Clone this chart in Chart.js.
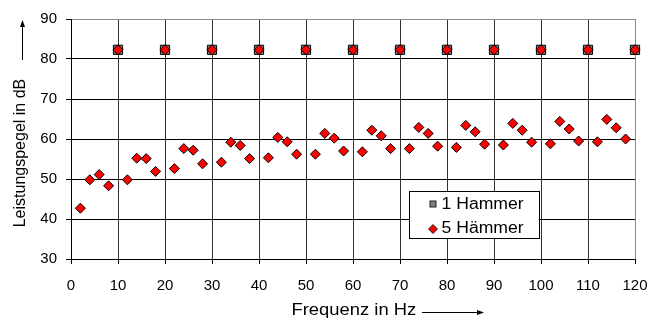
<!DOCTYPE html>
<html>
<head>
<meta charset="utf-8">
<script src="https://cdn.jsdelivr.net/npm/chart.js@4/dist/chart.umd.min.js"></script>
<style>
  html, body { margin: 0; padding: 0; background: #fff; }
  canvas { display: block; }
</style>
</head>
<body>
<canvas id="chart" width="661" height="322"></canvas>
<script>
// Frequenzen (Hz) und Pegel (dB)
const freq5 = [2, 4, 6, 8, 10, 12, 14, 16, 18, 20, 22, 24, 26, 28, 30, 32, 34, 36, 38, 40,
               42, 44, 46, 48, 50, 52, 54, 56, 58, 60, 62, 64, 66, 68, 70, 72, 74, 76, 78, 80,
               82, 84, 86, 88, 90, 92, 94, 96, 98, 100, 102, 104, 106, 108, 110, 112, 114, 116, 118, 120];
const level5 = [42.7, 49.8, 51.1, 48.3, 82.3, 49.8, 55.2, 55.1, 51.9, 82.3,
                52.6, 57.6, 57.2, 53.8, 82.3, 54.2, 59.2, 58.4, 55.1, 82.3,
                55.3, 60.4, 59.3, 56.2, 82.3, 56.2, 61.4, 60.2, 57.0, 82.3,
                56.8, 62.2, 60.8, 57.6, 82.3, 57.6, 62.9, 61.4, 58.2, 82.3,
                57.9, 63.4, 61.8, 58.7, 82.3, 58.5, 63.9, 62.2, 59.2, 82.3,
                58.8, 64.4, 62.5, 59.5, 82.3, 59.3, 64.9, 62.8, 60.0, 82.3];
const freq1 = [10, 20, 30, 40, 50, 60, 70, 80, 90, 100, 110, 120];
const level1 = [82.3, 82.3, 82.3, 82.3, 82.3, 82.3, 82.3, 82.3, 82.3, 82.3, 82.3, 82.3];

const xTicks = [0, 10, 20, 30, 40, 50, 60, 70, 80, 90, 100, 110, 120];
const yTicks = [30, 40, 50, 60, 70, 80, 90];

const seriesNames = ['1 Hammer', '5 Hämmer'];
const xTitle = 'Frequenz in Hz';
const yTitle = 'Leistungspegel in dB';

const FONT = '"Liberation Sans", Arial, sans-serif';

function toPoints(xs, ys) {
    return xs.map((x, i) => ({ x: x, y: ys[i] }));
}

function stretchedText(ctx, text, x, y, sx) {
    ctx.save();
    ctx.translate(x, y);
    ctx.scale(sx, 1);
    ctx.fillText(text, 0, 0);
    ctx.restore();
}

const decorations = {
    id: 'decorations',
    afterDraw(chart) {
        const ctx = chart.ctx;
        ctx.save();
        ctx.fillStyle = '#000';
        ctx.strokeStyle = '#000';
        ctx.lineWidth = 1;
        ctx.font = '16px ' + FONT;

        // y-Achsentitel mit Pfeil
        ctx.save();
        ctx.translate(25, 153);
        ctx.rotate(-Math.PI / 2);
        ctx.textAlign = 'center';
        ctx.textBaseline = 'alphabetic';
        ctx.fillText(yTitle, 0, 0);
        ctx.restore();

        ctx.beginPath();
        ctx.moveTo(22.5, 60);
        ctx.lineTo(22.5, 25);
        ctx.stroke();
        ctx.beginPath();
        ctx.moveTo(22.5, 20);
        ctx.lineTo(20, 27);
        ctx.lineTo(25, 27);
        ctx.closePath();
        ctx.fill();

        // x-Achsentitel mit Pfeil
        ctx.textAlign = 'left';
        ctx.textBaseline = 'alphabetic';
        stretchedText(ctx, xTitle, 291.5, 315, 1.15);
        ctx.beginPath();
        ctx.moveTo(422, 312.5);
        ctx.lineTo(478, 312.5);
        ctx.stroke();
        ctx.beginPath();
        ctx.moveTo(484, 312.5);
        ctx.lineTo(477, 310);
        ctx.lineTo(477, 315);
        ctx.closePath();
        ctx.fill();

        // Legende
        ctx.fillStyle = '#fff';
        ctx.fillRect(409.5, 191.5, 130, 47);
        ctx.strokeStyle = '#000';
        ctx.strokeRect(409.5, 191.5, 130, 47);

        ctx.fillStyle = '#808080';
        ctx.fillRect(430, 201, 6, 6);
        ctx.strokeStyle = '#222';
        ctx.strokeRect(430, 201, 6, 6);

        ctx.beginPath();
        ctx.moveTo(433, 224.5);
        ctx.lineTo(437.5, 229);
        ctx.lineTo(433, 233.5);
        ctx.lineTo(428.5, 229);
        ctx.closePath();
        ctx.fillStyle = '#ff0000';
        ctx.fill();
        ctx.strokeStyle = '#222';
        ctx.stroke();

        ctx.fillStyle = '#000';
        ctx.textBaseline = 'middle';
        stretchedText(ctx, seriesNames[0], 441.5, 204.5, 1.1);
        stretchedText(ctx, seriesNames[1], 441.5, 229, 1.1);
        ctx.restore();
    }
};

new Chart(document.getElementById('chart').getContext('2d'), {
    type: 'scatter',
    data: {
        datasets: [{
            label: seriesNames[1],
            data: toPoints(freq5, level5),
            pointStyle: 'rectRot',
            pointRadius: 5,
            pointBackgroundColor: '#ff0000',
            pointBorderColor: '#000',
            pointBorderWidth: 1,
            showLine: false,
            clip: false,
            order: 0
        }, {
            label: seriesNames[0],
            data: toPoints(freq1, level1),
            pointStyle: 'rect',
            pointRadius: 6.5,
            pointBackgroundColor: '#808080',
            pointBorderColor: '#000',
            pointBorderWidth: 1,
            showLine: false,
            clip: false,
            order: 1
        }]
    },
    options: {
        responsive: false,
        animation: false,
        events: [],
        layout: { padding: { top: 19, right: 26, left: 0, bottom: 0 } },
        plugins: {
            legend: { display: false },
            tooltip: { enabled: false }
        },
        scales: {
            x: {
                type: 'linear',
                min: 0,
                max: 120,
                afterFit(scale) { scale.height = 63; },
                afterBuildTicks(scale) { scale.ticks = xTicks.map(v => ({ value: v })); },
                ticks: {
                    color: '#000',
                    font: { family: FONT, size: 15 },
                    padding: 13,
                    maxRotation: 0
                },
                grid: {
                    color: c => (c.tick && c.tick.value === 120) ? '#8c8c8c' : '#333',
                    tickColor: '#000',
                    tickLength: 5,
                    lineWidth: 1
                },
                border: { color: '#000', width: 1 }
            },
            y: {
                min: 30,
                max: 90,
                afterFit(scale) { scale.width = 71; },
                afterBuildTicks(scale) { scale.ticks = yTicks.map(v => ({ value: v })); },
                ticks: {
                    color: '#000',
                    font: { family: FONT, size: 15 },
                    padding: 9
                },
                grid: {
                    color: c => (c.tick && c.tick.value === 90) ? '#8c8c8c' : '#000',
                    tickColor: '#000',
                    tickLength: 5,
                    lineWidth: 1
                },
                border: { color: '#000', width: 1 }
            }
        }
    },
    plugins: [decorations]
});
</script>
</body>
</html>
